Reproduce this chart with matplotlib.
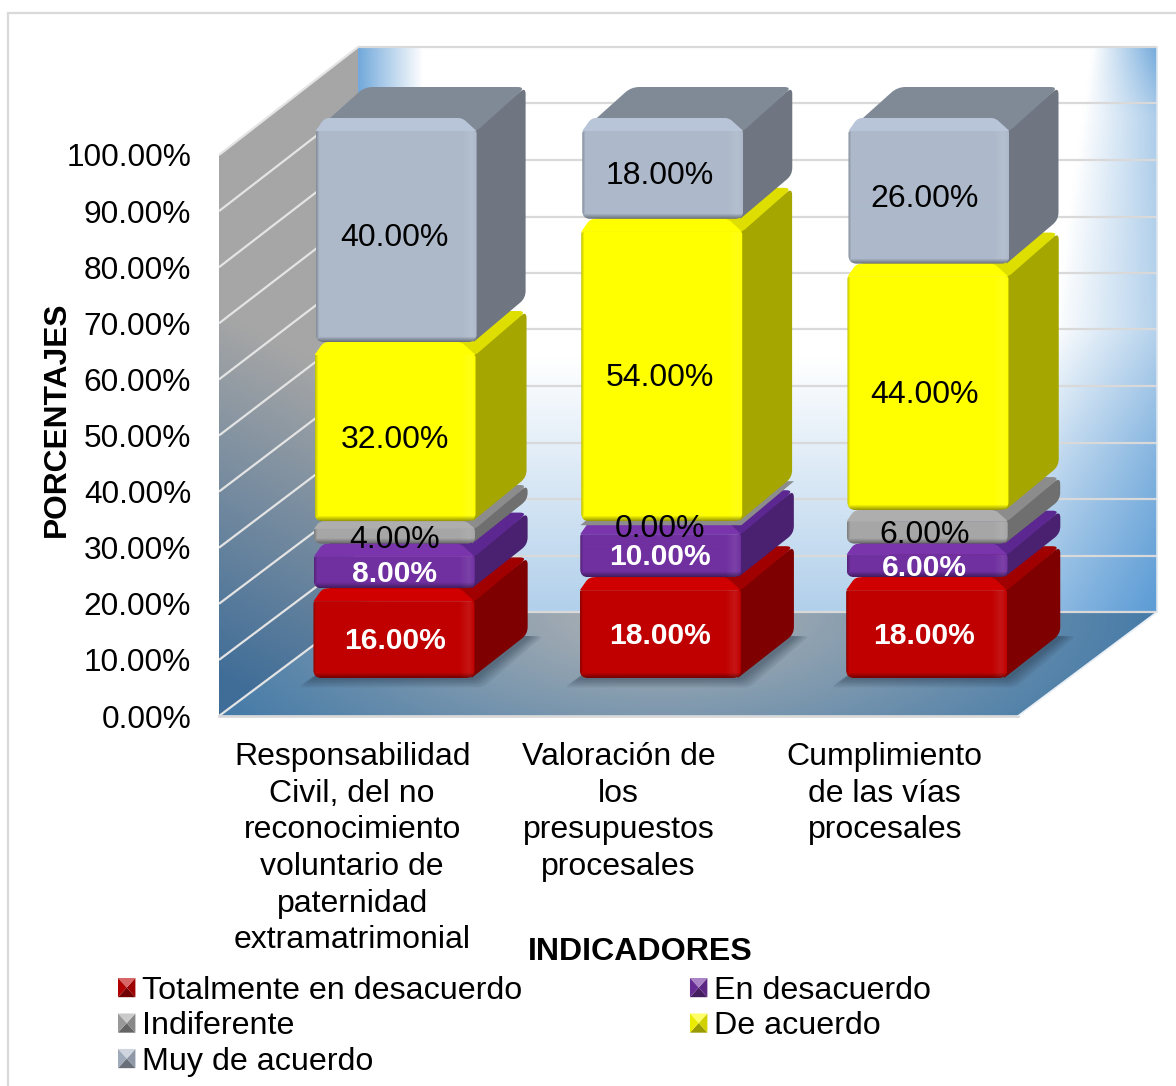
import numpy as np
import matplotlib
matplotlib.use("Agg")
import matplotlib.pyplot as plt
from matplotlib.patches import PathPatch, Polygon, Patch, Rectangle
from matplotlib.path import Path
from matplotlib.legend_handler import HandlerBase
from matplotlib.colors import to_rgb

plt.rcParams['font.family'] = ['Liberation Sans', 'DejaVu Sans']

# ---- data ----
categories = ["Responsabilidad\nCivil, del no\nreconocimiento\nvoluntario de\npaternidad\nextramatrimonial",
              "Valoración de\nlos\npresupuestos\nprocesales",
              "Cumplimiento\nde las vías\nprocesales"]
series_names = ["Totalmente en desacuerdo", "En desacuerdo", "Indiferente", "De acuerdo", "Muy de acuerdo"]
totalmente = [16, 18, 18]
en_desacuerdo = [8, 10, 6]
indiferente = [4, 0, 6]
de_acuerdo = [32, 54, 44]
muy_de_acuerdo = [40, 18, 26]
series_values = [totalmente, en_desacuerdo, indiferente, de_acuerdo, muy_de_acuerdo]
y_ticks = [0, 10, 20, 30, 40, 50, 60, 70, 80, 90, 100]

# ---- styles: front, side, top, bevel band, label colour, bold ----
styles = [("#C00000", "#7E0000", "#A00000", "#D00000", "white", True),
          ("#7030A0", "#4A2070", "#5C2790", "#7A34AC", "white", True),
          ("#A6A6A6", "#6F6F6F", "#8C8C8C", "#AEAEAE", "black", False),
          ("#FFFF00", "#A6A600", "#DEDE00", "#FFFF00", "black", False),
          ("#ADB9CA", "#6F7682", "#808A96", "#B8C5D8", "black", False)]
FS = 23.0
W, H = 1176, 1086
fig = plt.figure(figsize=(W / 100, H / 100), dpi=100, facecolor="white")
fig.add_artist(Rectangle((8 / W, -0.01), 1.2, 1 - 13 / H + 0.01, transform=fig.transFigure,
                         fc="white", ec="#D9D9D9", lw=1.6, zorder=-5))

L, R, B, T = 219, 1170, 716, 40
ax = fig.add_axes([L / W, 1 - B / H, (R - L) / W, (B - T) / H])
PX, PY = 3 / 799, 100 / 561
ax.set_xlim(0, (R - L) * PX)
ax.set_ylim(0, (B - T) * PY)
ax.set_autoscale_on(False)
ax.patch.set_alpha(0)
for s in ax.spines.values():
    s.set_visible(False)

DX, BACK0, BACK100 = 139 * PX, 104 * PY, (716 - 47) * PY


def gradient(poly, arr, extent, z):
    clip = Polygon(poly, closed=True, transform=ax.transData, fc="none", ec="none")
    im = ax.imshow(arr, extent=extent, origin="upper", aspect="auto", zorder=z, interpolation="bilinear")
    im.set_clip_path(clip)


def mix_img(c0, c1, t):
    t = np.clip(t, 0, 1)[..., None]
    return np.array(to_rgb(c0)) * (1 - t) + np.array(to_rgb(c1)) * t


# back wall
u, v = np.meshgrid(np.linspace(0, 1, 300), np.linspace(0, 1, 300))
t_left = (1 - u / 0.08) * 0.85
u0 = np.interp(v, [0, 0.5, 0.72, 1], [0.92, 0.87, 0.76, 0.58])
edge = np.interp(v, [0, 0.12, 0.5, 0.72, 1], [0.85, 0.5, 0.45, 0.75, 1.0])
t_right = edge * np.clip((u - u0) / (1 - u0), 0, 1)
t_bot = (v - 0.55) * 1.05
t_back = np.maximum.reduce([t_left, t_right, t_bot])
back_poly = [(DX, BACK0), (3 + DX, BACK0), (3 + DX, BACK100), (DX, BACK100)]
gradient(back_poly, mix_img("#FFFFFF", "#5B9BD5", t_back), (DX, 3 + DX, BACK0, BACK100), 0)

# left wall
u, v = np.meshgrid(np.linspace(0, 1, 200), np.linspace(0, 1, 300))
t_left_wall = np.clip((v - 0.45) / 0.55 + 0.2 * (0.5 - u), 0, 1)
left_poly = [(0, 0), (0, 100), (DX, BACK100), (DX, BACK0)]
gradient(left_poly, mix_img("#A6A6A6", "#3F6D98", t_left_wall), (0, DX, 0, BACK100), 0)

# floor
u, v = np.meshgrid(np.linspace(0, 1, 400), np.linspace(0, 1, 120))
t_floor = np.clip(np.sqrt(((u - 0.47) / 0.5) ** 2 * 0.85 + (v * 0.5) ** 2), 0, 1)
floor_poly = [(0, 0), (3, 0), (3 + DX, BACK0), (DX, BACK0)]
gradient(floor_poly, mix_img("#B4B4B4", "#437AA8", t_floor), (0, 3 + DX, 0, BACK0), 0)

# grid lines
for yv in y_ticks:
    yb = BACK0 + yv * (BACK100 - BACK0) / 100
    ax.plot([DX, DX + 3], [yb, yb], color="#D9D9D9", lw=1.6, zorder=1, solid_capstyle="butt")
    ax.plot([0, DX], [yv, yb], color="#E4E4E4", lw=1.6, zorder=1, solid_capstyle="butt")
ax.plot([0, 3], [0, 0], color="#D9D9D9", lw=2, zorder=1, clip_on=False)
ax.plot([3, 3 + DX], [0, BACK0], color="#E8EEF4", lw=1.2, zorder=1)
ax.plot([3 + DX, 3 + DX], [BACK0, BACK100], color="#DDE6EE", lw=1.2, zorder=1)


def rounded(pts, rad):
    """Closed path in data units with corners rounded by rad pixels."""
    pix = [np.array([p[0] / PX, p[1] / PY]) for p in pts]
    n = len(pix)
    if np.isscalar(rad):
        rad = [rad] * n
    verts, codes = [], []
    for i in range(n):
        p, a, b = pix[i], pix[i - 1], pix[(i + 1) % n]
        r = rad[i]
        da = (a - p) / max(np.linalg.norm(a - p), 1e-6)
        db = (b - p) / max(np.linalg.norm(b - p), 1e-6)
        r1 = min(r, np.linalg.norm(a - p) * 0.45)
        r2 = min(r, np.linalg.norm(b - p) * 0.45)
        s, e = p + da * r1, p + db * r2
        verts += [s, p, e]
        codes += [Path.MOVETO if i == 0 else Path.LINETO, Path.CURVE3, Path.CURVE3]
    verts.append(verts[0])
    codes.append(Path.CLOSEPOLY)
    verts = np.array(verts) * [PX, PY]
    return Path(verts, codes)


def front_image(color, w, h):
    w, h = max(int(w), 2), max(int(h), 2)
    base = np.array(to_rgb(color))
    img = np.tile(base, (h, w, 1))
    yy, xx = np.mgrid[0:h, 0:w]
    light = np.clip(1 - (w - 1 - xx) / 15.0, 0, 1) * np.clip((w - 1 - xx) / 6.0, 0, 1) * 0.13
    img = img + (1 - img) * light[..., None]
    dark = np.maximum(np.clip(1 - (h - 1 - yy) / 5.0, 0, 1) * 0.38, np.clip(1 - xx / 3.0, 0, 1) * 0.22)
    img = img * (1 - dark[..., None])
    return np.clip(img, 0, 1)


BAR_W = 161 * PX
OFF_X = 0.156
BASE = 38 * PY
SCALE = 560 / 561
z = 5


def skew(yv):
    return 3 * PX * yv / 100


def dep(yv):
    return (54 - 5 * yv / 100) * PX, 44 * PY


# floor shadows
for i in range(3):
    l = i + 0.5 + OFF_X - BAR_W / 2
    r = l + BAR_W
    for grow, a in [(15, 0.10), (12, 0.10), (9, 0.12), (6, 0.12), (3, 0.12)]:
        gx, gy = grow * PX, grow * 0.62 * PY
        sh = [(l - gx, BASE - gy), (r + gx * 0.6, BASE - gy),
              (r + 54 * PX + gx, BASE + 42 * PY), (l + 54 * PX, BASE + 42 * PY)]
        ax.add_patch(PathPatch(rounded(sh, 5), fc="#26374A", ec="none", alpha=a, zorder=2))

# stacked boxes
for i in range(3):
    cum = 0.0
    cx0 = i + 0.5 + OFF_X
    for k, vals in enumerate(series_values):
        val = vals[i]
        front, side, top_c, band_c, lab_c, bold = styles[k]
        y0 = BASE + cum * SCALE
        y1 = BASE + (cum + val) * SCALE
        h_px = (y1 - y0) / PY
        gap = 4 if val == 0 else min(13, 0.3 * h_px + 1)
        yt = y1 - gap * PY
        l = cx0 - BAR_W / 2 + skew(cum + val / 2)
        r = l + BAR_W
        ddx, ddy = dep(cum + val)
        # side face
        if val > 0:
            side_poly = [(r - 3 * PX, y0), (r + ddx, y0 + ddy), (r + ddx, yt + ddy), (r - 3 * PX, yt)]
            ax.add_patch(PathPatch(rounded(side_poly, [0, 7, 7, 0]), fc=side, ec="none", zorder=z))
        # top face
        top_poly = [(l, yt), (l + ddx, yt + ddy), (r + ddx, yt + ddy), (r, yt)]
        ax.add_patch(PathPatch(rounded(top_poly, [4, 8, 8, 4] if val > 0 else 0), fc=top_c, ec="none", zorder=z))
        # bevel band and front face
        if val > 0:
            band = [(l, yt), (l + gap * 0.7 * PX, y1), (r - gap * 1.1 * PX, y1), (r, yt)]
            ax.add_patch(PathPatch(rounded(band, [0, 5, 4, 0]), fc=band_c, ec="none", zorder=z))
            fp = PathPatch(rounded([(l, y0), (l, yt), (r, yt), (r, y0)], [8, 2, 2, 8]),
                           transform=ax.transData, fc="none", ec="none")
            im = ax.imshow(front_image(front, 161, (yt - y0) / PY), extent=(l, r, y0, yt),
                           origin="upper", aspect="auto", zorder=z, interpolation="bilinear")
            im.set_clip_path(fp)
        z += 1
        # value label
        ax.text(cx0 + (1 - 1.5 * i) * PX, y0 + (y1 - y0) / 2 - 8 * PY, f"{val:.2f}%", color=lab_c, ha="center",
                va="center", fontsize=21.6 if bold else FS, fontweight="bold" if bold else "normal", zorder=50)
        cum += val

# axes texts
ax.set_yticks(y_ticks)
ax.set_yticklabels([f"{t:.2f}%" for t in y_ticks], fontsize=22.8)
ax.set_xticks([0.5, 1.5, 2.5])
ax.set_xticklabels(categories, fontsize=FS, linespacing=1.285)
ax.tick_params(axis="both", length=0)
ax.tick_params(axis="y", pad=20)
ax.tick_params(axis="x", pad=19)
fig.text(57 / W, 1 - 419.5 / H, "PORCENTAJES", rotation=90, ha="center", va="center", fontsize=22.9, fontweight="bold")
fig.text(640 / W, 1 - 952 / H, "INDICADORES", ha="center", va="center", fontsize=23.1, fontweight="bold")


# legend with bevelled squares
class BevelHandler(HandlerBase):
    def create_artists(self, legend, orig, xd, yd, w, h, fs, trans):
        c = np.array(to_rgb(orig.get_facecolor()))
        x0, y0 = -xd, -yd
        cx, cy = x0 + w / 2, y0 + h / 2
        corners = [(x0, y0), (x0 + w, y0), (x0 + w, y0 + h), (x0, y0 + h)]
        shades = [c * 0.6, c * 0.82, np.clip(c + (1 - c) * 0.4, 0, 1), c * 0.92]
        out = []
        for j in range(4):
            tri = Polygon([corners[j], corners[(j + 1) % 4], (cx, cy)], closed=True,
                          fc=shades[j], ec="none", transform=trans)
            out.append(tri)
        return out


handles = [Patch(fc=styles[k][0], label=series_names[k]) for k in range(5)]
order = [0, 2, 4, 1, 3]
fig.legend([handles[k] for k in order], [series_names[k] for k in order], ncol=2, frameon=False,
           loc="upper left", bbox_to_anchor=(118 / W, 1 - 976 / H), borderaxespad=0, borderpad=0,
           fontsize=23.2, handlelength=0.54, handleheight=0.54, handletextpad=0.21, columnspacing=5.2,
           labelspacing=0.17, handler_map={Patch: BevelHandler()})

fig.savefig("out.png", dpi=100)
